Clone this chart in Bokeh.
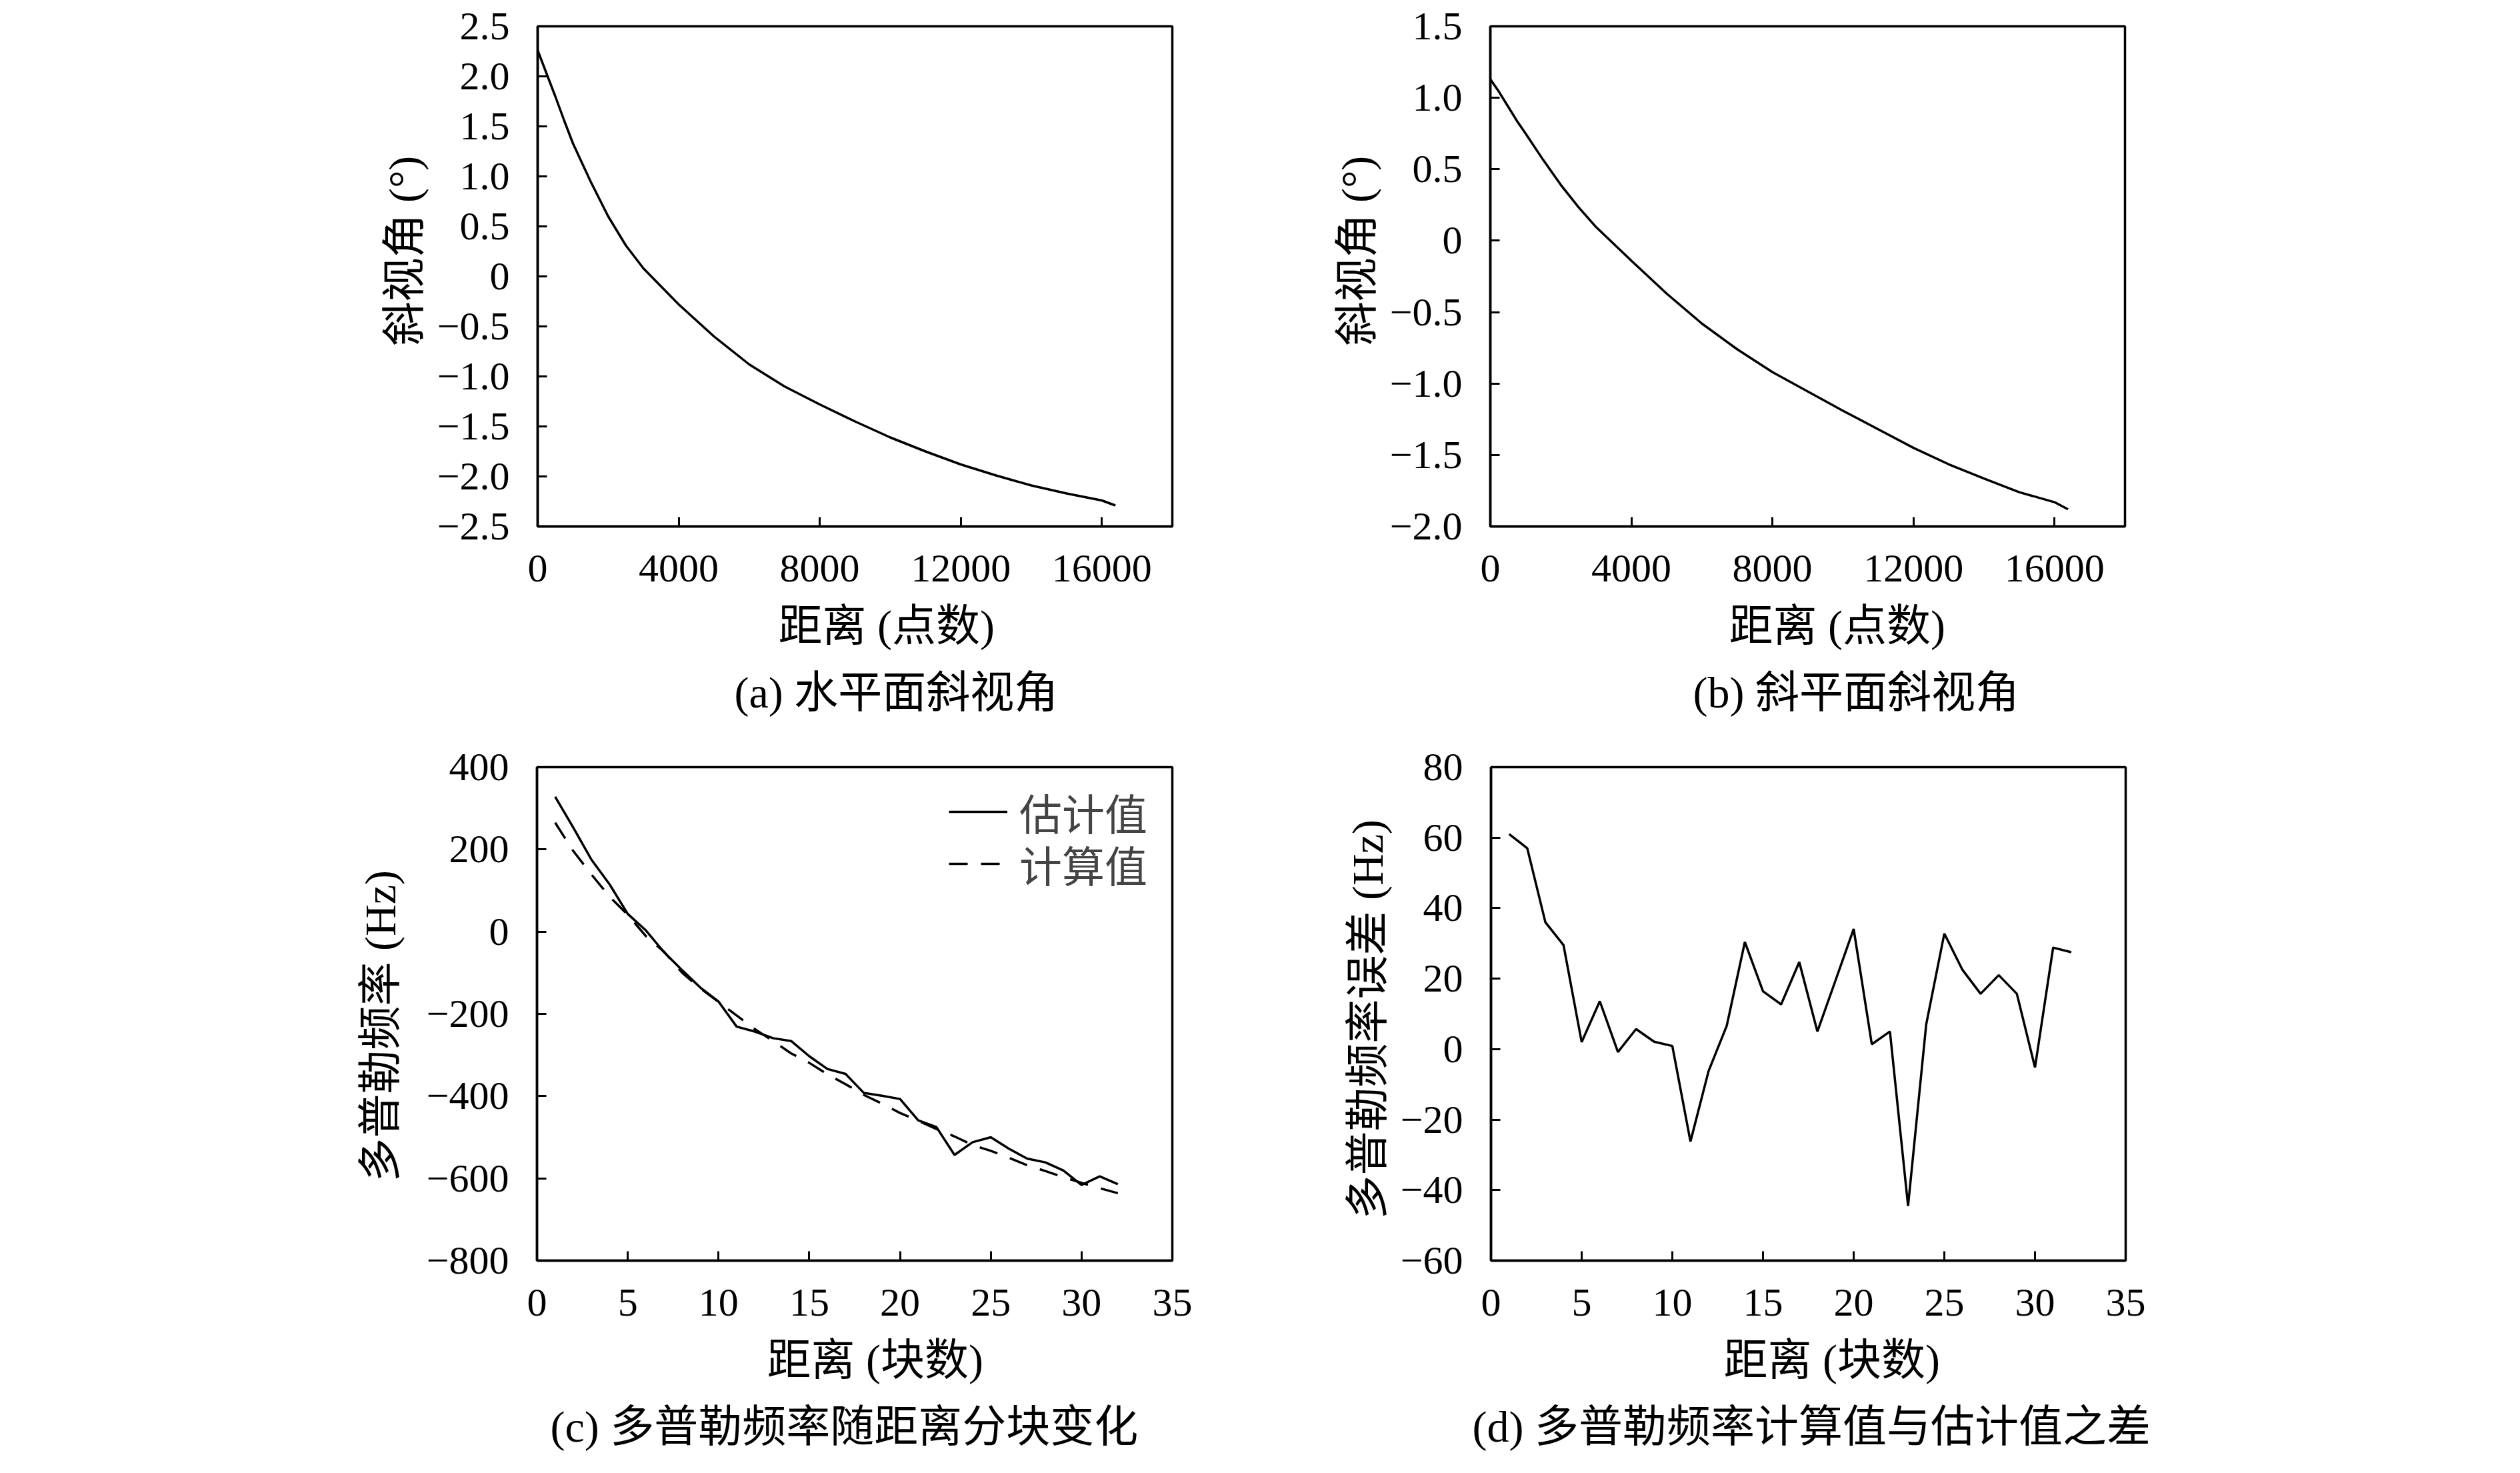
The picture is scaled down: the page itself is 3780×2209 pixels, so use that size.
from bokeh.plotting import figure
from bokeh.models import Range1d, FixedTicker, Title, Legend, LegendItem
from bokeh.layouts import column, row
from bokeh.embed import file_html
from bokeh.resources import INLINE

# ---------------- data ----------------
range_points = [0, 250, 500, 750, 1000, 1500, 2000, 2500, 3000, 4000, 5000, 6000,
                7000, 8000, 9000, 10000, 11000, 12000, 13000, 14000, 15000, 16000, 16384]
squint_horizontal = [2.26, 2.03, 1.80, 1.56, 1.33, 0.95, 0.60, 0.31, 0.08, -0.28, -0.60, -0.88,
                     -1.10, -1.28, -1.45, -1.61, -1.75, -1.88, -1.99, -2.09, -2.17, -2.24, -2.29]
squint_slant = [1.13, 1.04, 0.94, 0.84, 0.75, 0.565, 0.39, 0.235, 0.095, -0.14, -0.37, -0.58,
                -0.76, -0.92, -1.055, -1.19, -1.32, -1.45, -1.565, -1.665, -1.76, -1.83, -1.88]

blocks = list(range(1, 33))
doppler_est = [328, 253, 175, 115, 43, 3, -50, -94, -136, -170, -231, -243, -259, -266, -303, -334,
               -346, -392, -399, -407, -459, -475, -543, -512, -500, -528, -552, -561, -581, -616, -595, -614]
doppler_calc = [265, 196, 139, 85, 41, -11, -49, -100, -138, -171, -204, -237, -266, -296, -319, -347,
                -371, -397, -418, -441, -460, -480, -498, -519, -533, -550, -568, -582, -597, -611, -624, -636]
doppler_err = [61, 57, 36, 29.5, 2, 13.6, -0.8, 5.7, 2.1, 0.9, -26.2, -6.2, 6.6, 30.4, 16.4, 12.7,
               24.7, 5.0, 19.5, 34.1, 1.4, 5.0, -44.5, 7.0, 32.8, 22.5, 15.7, 21.0, 15.7, -5.2, 28.8, 27.5]

ticks_a_y = [-2.5, -2.0, -1.5, -1.0, -0.5, 0, 0.5, 1.0, 1.5, 2.0, 2.5]
ticks_b_y = [-2.0, -1.5, -1.0, -0.5, 0, 0.5, 1.0, 1.5]
ticks_range_x = [0, 4000, 8000, 12000, 16000]
ticks_block_x = [0, 5, 10, 15, 20, 25, 30, 35]
ticks_c_y = [-800, -600, -400, -200, 0, 200, 400]
ticks_d_y = [-60, -40, -20, 0, 20, 40, 60, 80]

FONT = "Liberation Serif, Noto Sans CJK SC"
TICK_SIZE = "60px"
TEXT_SIZE = "66px"
MINUS = "\u2212"
XLABEL_STANDOFF = 50
CAPTION_STANDOFF = 0


def fmt_dec(v):
    if v == 0:
        return "0"
    s = "%.1f" % abs(v)
    return (MINUS + s) if v < 0 else s


def fmt_int(v):
    if v == 0:
        return "0"
    s = "%d" % abs(v)
    return (MINUS + s) if v < 0 else s


def make_fig(width, height, left, right, top, bottom, xr, yr, xticks, yticks, yfmt):
    p = figure(width=width, height=height, x_range=Range1d(*xr), y_range=Range1d(*yr),
               output_backend="svg", toolbar_location=None,
               min_border_left=left, min_border_right=right,
               min_border_top=top, min_border_bottom=bottom)
    p.background_fill_color = "white"
    p.border_fill_color = "white"
    p.grid.visible = False
    p.outline_line_color = "black"
    p.outline_line_width = 3.5
    p.outline_line_alpha = 1.0
    for ax in (p.xaxis[0], p.yaxis[0]):
        ax.axis_line_width = 3.5
        ax.axis_line_color = "black"
        ax.major_tick_in = 14
        ax.major_tick_out = 0
        ax.major_tick_line_width = 3
        ax.major_tick_line_color = "black"
        ax.minor_tick_in = 0
        ax.minor_tick_out = 0
        ax.major_label_text_font = FONT
        ax.major_label_text_font_size = TICK_SIZE
        ax.major_label_text_color = "black"
    p.xaxis[0].ticker = FixedTicker(ticks=xticks)
    p.xaxis[0].major_label_overrides = {t: fmt_int(t) for t in xticks}
    p.xaxis[0].major_label_standoff = 43
    p.yaxis[0].ticker = FixedTicker(ticks=yticks)
    p.yaxis[0].major_label_overrides = {t: yfmt(t) for t in yticks}
    p.yaxis[0].major_label_standoff = 42
    return p


def add_title(p, text, side, offset, standoff):
    p.add_layout(Title(text=text, align="left", offset=offset, standoff=standoff,
                       text_font=FONT, text_font_size=TEXT_SIZE, text_font_style="normal",
                       text_color="black"), side)


def legend_at(renderer, label, x, y):
    lg = Legend(items=[LegendItem(label=label, renderers=[renderer])], location=(x, y),
                label_text_font=FONT, label_text_font_size="64px",
                glyph_width=88, glyph_height=90, label_height=40, label_standoff=18,
                spacing=0, padding=0, margin=0, border_line_color=None,
                background_fill_alpha=0.0)
    return lg


# ---------------- (a) ----------------
pa = make_fig(1892, 1086, 806, 134, 39, 297, (0, 18000), (-2.5, 2.5), ticks_range_x, ticks_a_y, fmt_dec)
pa.line(range_points, squint_horizontal, line_color="black", line_width=3.5)
add_title(pa, "斜视角 (°)", "left", 271, 20)
add_title(pa, "距离 (点数)", "below", 361, XLABEL_STANDOFF)
add_title(pa, "(a) 水平面斜视角", "below", 295, CAPTION_STANDOFF)

# ---------------- (b) ----------------
pb = make_fig(1872, 1086, 343, 577, 39, 297, (0, 18000), (-2.0, 1.5), ticks_range_x, ticks_b_y, fmt_dec)
pb.line(range_points, squint_slant, line_color="black", line_width=3.5)
add_title(pb, "斜视角 (°)", "left", 271, 20)
add_title(pb, "距离 (点数)", "below", 358, XLABEL_STANDOFF)
add_title(pb, "(b) 斜平面斜视角", "below", 304, CAPTION_STANDOFF)

# ---------------- (c) ----------------
pc = make_fig(1892, 1101, 805, 134, 64, 297, (0, 35), (-800, 400), ticks_block_x, ticks_c_y, fmt_int)
r_est = pc.line(blocks, doppler_est, line_color="black", line_width=3.5)
r_calc = pc.line(blocks, doppler_calc, line_color="black", line_width=3.5, line_dash="28 20")
pc.add_layout(legend_at(r_est, "估计值", 618, 627))
pc.add_layout(legend_at(r_calc, "计算值", 618, 549))
add_title(pc, "多普勒频率 (Hz)", "left", 118, 60)
add_title(pc, "距离 (块数)", "below", 345, XLABEL_STANDOFF)
add_title(pc, "(c) 多普勒频率随距离分块变化", "below", 20, CAPTION_STANDOFF)

# ---------------- (d) ----------------
pd_ = make_fig(1872, 1101, 344, 576, 64, 297, (0, 35), (-60, 80), ticks_block_x, ticks_d_y, fmt_int)
pd_.line(blocks, doppler_err, line_color="black", line_width=3.5)
add_title(pd_, "多普勒频率误差 (Hz)", "left", 62, 20)
add_title(pd_, "距离 (块数)", "below", 349, XLABEL_STANDOFF)
add_title(pd_, "(d) 多普勒频率计算值与估计值之差", "below", -28, CAPTION_STANDOFF)

layout = column(row(pa, pb), row(pc, pd_))

with open("out.html", "w") as f:
    f.write(file_html(layout, INLINE))
